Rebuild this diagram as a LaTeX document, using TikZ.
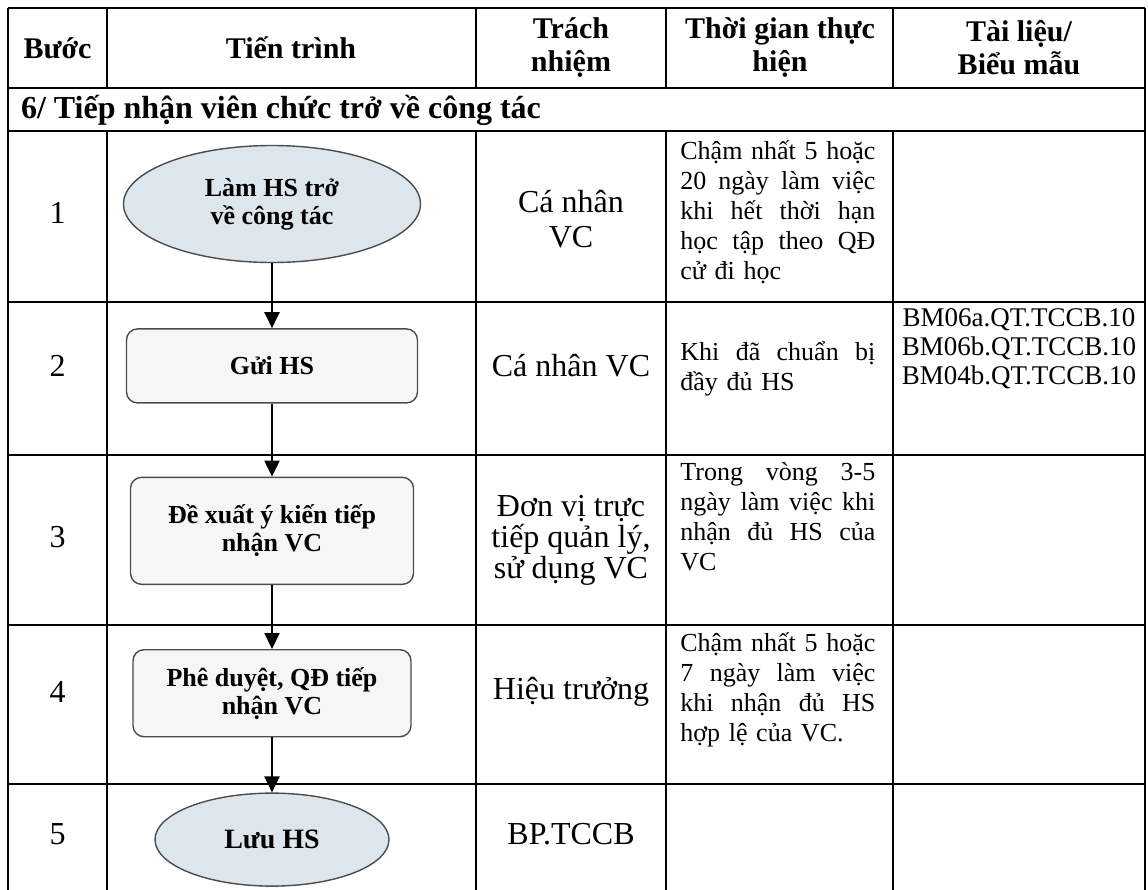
\documentclass[tikz,border=0pt]{standalone}
\usepackage{fontspec}
\setmainfont{Liberation Serif}
\usetikzlibrary{arrows.meta,positioning,shapes.geometric}

\definecolor{termfill}{RGB}{221,229,237}
\definecolor{procfill}{RGB}{246,246,246}
\newcommand{\jline}[1]{{\spaceskip=\fontdimen2\font plus 1fil\relax\makebox[97.5pt][s]{#1}}}
\newcommand{\tightlines}{\lineskiplimit=-20pt\relax}

\begin{document}
\begin{tikzpicture}[
  x=0.5pt, y=-0.5pt,
  grid/.style={line width=0.8pt},
  head/.style={font=\fontsize{15}{16.5}\selectfont\bfseries, align=center},
  cell/.style={font=\fontsize{16}{17.5}\selectfont, align=center},
  timecell/.style={font=\fontsize{13}{15}\selectfont, text width=97.5pt, align=left, inner sep=0pt, anchor=north west},
  formcell/.style={font=\fontsize{13.5}{14.5}\selectfont, align=center, inner sep=0pt, anchor=north},
  term/.style={ellipse, draw=black!70, fill=termfill, line width=0.7pt, minimum width=148.5pt, minimum height=58.5pt, inner sep=0pt, font=\fontsize{13}{14}\selectfont\bfseries, align=center},
  proc/.style={draw=black!70, fill=procfill, rounded corners=5.5pt, line width=0.7pt, inner sep=0pt, font=\fontsize{13}{14}\selectfont\bfseries, align=center},
  arr/.style={-{Triangle[width=7.5pt,length=8pt]}, line width=1.1pt}
]
  \useasboundingbox (0,0) rectangle (1148,890);

  % table grid
  \draw[grid] (8,8) -- (1145,8) (8,88) -- (1145,88) (8,131) -- (1145,131);
  \foreach \y in {302,455,625,784}
    \draw[grid] (8,\y) -- (1145,\y);
  \draw[grid] (8,8) -- (8,890) (1145,8) -- (1145,890);
  \foreach \x in {107,476,666,893} {
    \draw[grid] (\x,8) -- (\x,88);
    \draw[grid] (\x,131) -- (\x,890);
  }

  % header
  \node[head] (hstep) at (57.5,48) {Bước};
  \node[head] (hflow) at (291,48) {Tiến trình};
  \node[head] (hresp) at (571,48) {Trách\\nhiệm};
  \node[head] (htime) at (780,48) {Thời gian thực\\hiện};
  \node[head] (hform) at (1019,48) {Tài liệu/\\Biểu mẫu};
  \node[font=\fontsize{16}{18}\selectfont\bfseries, anchor=west] (sect) at (14,110) {6/ Tiếp nhận viên chức trở về công tác};

  % step numbers
  \node[cell] (s1) at (57.5,213) {1};
  \node[cell] (s2) at (57.5,366) {2};
  \node[cell] (s3) at (57.5,537) {3};
  \node[cell] (s4) at (57.5,692) {4};
  \node[cell] (s5) at (57.5,834) {5};

  % flow
  \node[term] (start) at (272,204) {Làm HS trở\\về công tác};
  \node[proc, minimum width=145.5pt, minimum height=37pt, below=32.5pt of start] (send) {Gửi HS};
  \node[proc, minimum width=141.5pt, minimum height=53.5pt, below=36.5pt of send] (propose) {Đề xuất ý kiến tiếp\\nhận VC};
  \node[proc, minimum width=139pt, minimum height=43.5pt, below=32pt of propose] (approve) {Phê duyệt, QĐ tiếp\\nhận VC};
  \node[term, minimum width=117pt, minimum height=46.5pt, font=\fontsize{14}{15}\selectfont\bfseries, below=27.5pt of approve] (store) {Lưu HS};
  \draw[arr] (start) -- (send);
  \draw[arr] (send) -- (propose);
  \draw[arr] (propose) -- (approve);
  \draw[arr] (approve) -- (store);

  % responsibility
  \node[cell] (r1) at (571,219) {Cá nhân\\VC};
  \node[cell] (r2) at (571,366) {Cá nhân VC};
  \node[cell, font={\fontsize{16}{15.5}\selectfont\tightlines}] (r3) at (571,540) {Đơn vị trực\\tiếp quản lý,\\sử dụng VC};
  \node[cell] (r4) at (571,692) {Hiệu trưởng};
  \node[cell] (r5) at (571,834) {BP.TCCB};

  % time
  \node[timecell] (t1) at (680,140) {\jline{Chậm nhất 5 hoặc}\\\jline{20 ngày làm việc}\\\jline{khi hết thời hạn}\\\jline{học tập theo QĐ}\\cử đi học};
  \node[timecell] (t2) at (680,341) {\jline{Khi đã chuẩn bị}\\đầy đủ HS};
  \node[timecell] (t3) at (680,462) {\jline{Trong vòng 3-5}\\\jline{ngày làm việc khi}\\\jline{nhận đủ HS của}\\VC};
  \node[timecell] (t4) at (680,632) {\jline{Chậm nhất 5 hoặc}\\\jline{7 ngày làm việc}\\\jline{khi nhận đủ HS}\\hợp lệ của VC.};

  % forms
  \node[formcell] (f2) at (1019,308) {BM06a.QT.TCCB.10\\BM06b.QT.TCCB.10\\BM04b.QT.TCCB.10};
\end{tikzpicture}
\end{document}
